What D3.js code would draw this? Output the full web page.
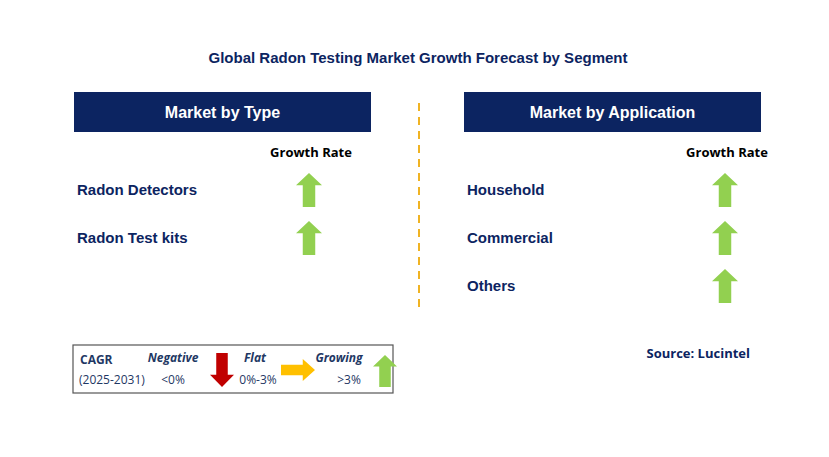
<!DOCTYPE html><html><head><meta charset="utf-8"><script src="https://cdn.jsdelivr.net/npm/d3@7"></script>
<style>body{margin:0;background:#fff}</style></head><body><svg id="c" width="829" height="457"></svg>
<script>
const typeCategories=["Radon Detectors","Radon Test kits"];
const typeGrowth=["growing","growing"];
const appCategories=["Household","Commercial","Others"];
const appGrowth=["growing","growing","growing"];
const legendLabels=["Negative","Flat","Growing"];
const legendRanges=["<0%","0%-3%",">3%"];
const svg=d3.select("#c");
const navy="#0c2461", txt="#1f3864";
svg.append("text").attr("x",418).attr("y",63).attr("text-anchor","middle").attr("font-family","Arial").attr("font-weight","bold").attr("font-size",15).attr("fill",navy).text("Global Radon Testing Market Growth Forecast by Segment");
const colors={growing:"#92d050",flat:"#ffc000",negative:"#c00000"};
function arrow(g,cx,cy,dir,w,h){
  // up arrow path centered at cx,cy
  const hw=w/2, sw=w*0.24, hh=h*0.36;
  let pts=[[0,-h/2],[hw,-h/2+hh],[sw,-h/2+hh],[sw,h/2],[-sw,h/2],[-sw,-h/2+hh],[-hw,-h/2+hh]];
  const rot={growing:0,negative:180,flat:90}[dir];
  g.append("path").attr("d",d3.line()(pts)+"Z").attr("fill",colors[dir]).attr("transform",`translate(${cx},${cy}) rotate(${rot})`);
}
function panel(x0,title,cats,growth,arrowX){
  svg.append("rect").attr("x",x0).attr("y",92).attr("width",297).attr("height",40).attr("fill",navy);
  svg.append("text").attr("x",x0+148.5).attr("y",118).attr("text-anchor","middle").attr("fill","#fff").attr("font-family","Arial").attr("font-weight","bold").attr("font-size",16).text(title);
  svg.append("text").attr("x",arrowX+2).attr("y",157).attr("text-anchor","middle").attr("font-family","Open Sans, Arial").attr("font-weight","bold").attr("font-size",13).attr("fill","#000").text("Growth Rate");
  const y=d3.scaleBand().domain(cats).range([166,166+48*cats.length]);
  const g=svg.append("g");
  cats.forEach((c,i)=>{
    const cy=y(c)+y.bandwidth()/2;
    g.append("text").attr("x",x0+3).attr("y",cy+5).attr("font-family","Arial").attr("font-weight","bold").attr("font-size",15).attr("fill",navy).text(c);
    arrow(g,arrowX,cy,growth[i],26,34);
  });
}
panel(74,"Market by Type",typeCategories,typeGrowth,309);
panel(464,"Market by Application",appCategories,appGrowth,725);
svg.append("line").attr("x1",419).attr("x2",419).attr("y1",103).attr("y2",310).attr("stroke","#f0b323").attr("stroke-width",2).attr("stroke-dasharray","8,6");
svg.append("text").attr("x",750).attr("y",358).attr("text-anchor","end").attr("font-family","Open Sans, Arial").attr("font-weight","bold").attr("font-size",13).attr("fill",navy).text("Source: Lucintel");
// legend
const L=svg.append("g");
L.append("rect").attr("x",73).attr("y",345).attr("width",320).attr("height",48).attr("fill","#fff").attr("stroke","#555").attr("stroke-width",1.2);
L.append("text").attr("x",80).attr("y",364).attr("font-family","Open Sans, Arial").attr("font-weight","bold").attr("font-size",12).attr("fill",txt).text("CAGR");
L.append("text").attr("x",79).attr("y",384).attr("font-family","Open Sans, Arial").attr("font-size",12).attr("fill",txt).text("(2025-2031)");
const lx=[173,255,339], rx=[173,258,349], dirs=["negative","flat","growing"];
legendLabels.forEach((l,i)=>{
  L.append("text").attr("x",lx[i]).attr("y",362).attr("text-anchor","middle").attr("font-family","Open Sans, Arial").attr("font-weight","bold").attr("font-style","italic").attr("font-size",12).attr("fill",txt).text(l);
  L.append("text").attr("x",rx[i]).attr("y",384).attr("text-anchor","middle").attr("font-family","Open Sans, Arial").attr("font-size",12).attr("fill",txt).text(legendRanges[i]);
});
arrow(L,222,370,"negative",24,34);
arrow(L,298,370,"flat",22,34);
arrow(L,385,371,"growing",24,32);
</script></body></html>
